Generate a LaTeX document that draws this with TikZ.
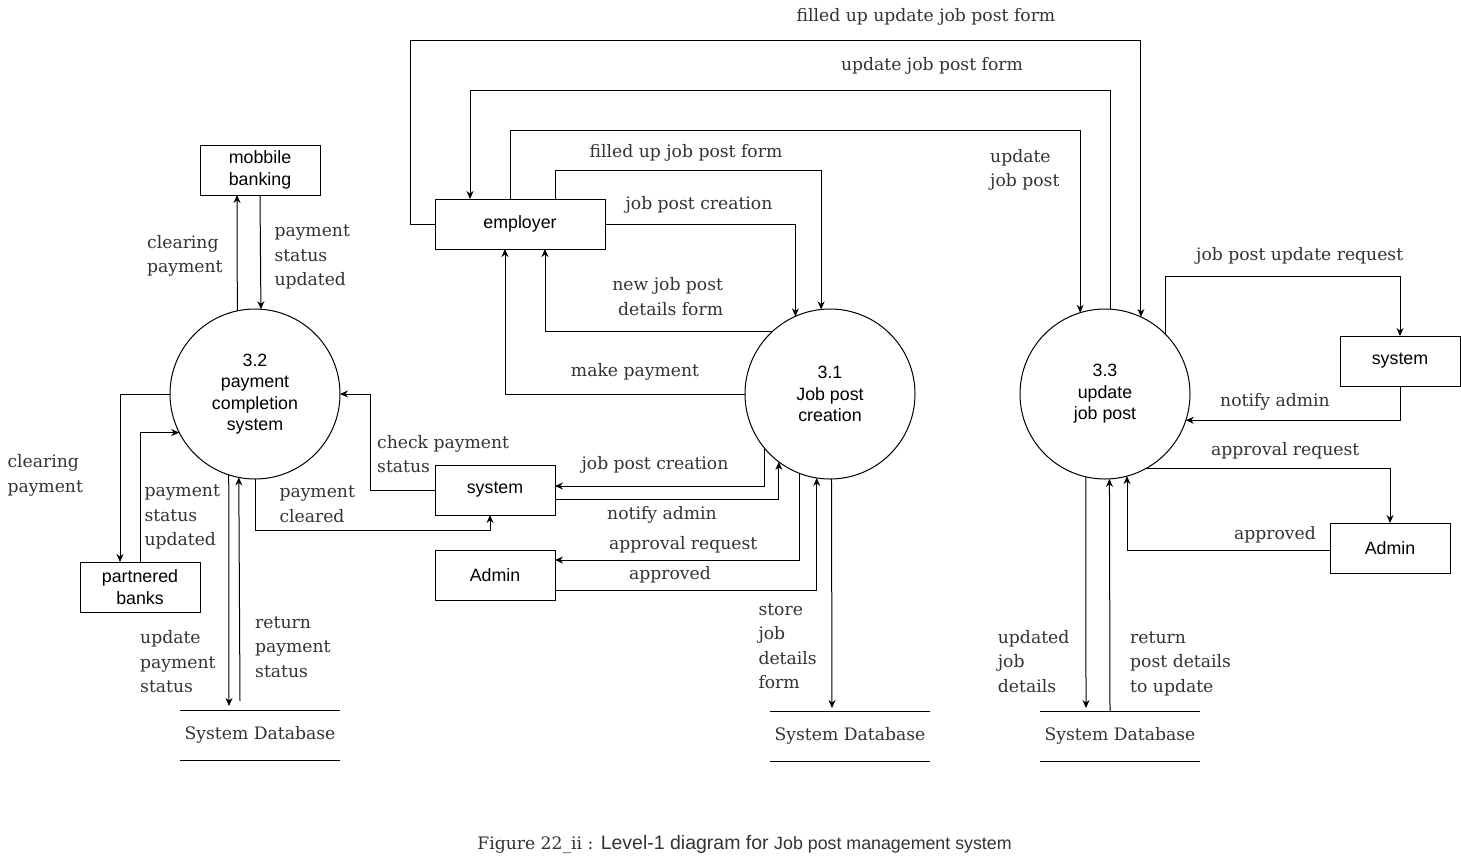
\documentclass[tikz,border=0pt]{standalone}
\usepackage{fontspec}
\setmainfont{DejaVu Serif}
\setsansfont{Liberation Sans}
\newfontfamily\lblserif{DejaVu Serif}
\usetikzlibrary{arrows.meta,calc}
\definecolor{lblgray}{HTML}{333333}
\newcommand{\nodefont}{\sffamily\fontsize{17.8}{21.4}\selectfont}
\newcommand{\lblfont}{\lblserif\fontsize{17.2}{24.5}\selectfont}
\begin{document}
\begin{tikzpicture}[x=1pt,y=-1pt,
  box/.style={draw, line width=1pt, minimum width=120pt, minimum height=50pt, inner sep=0pt, outer sep=0pt, font=\nodefont, align=center},
  proc/.style={draw, circle, line width=1pt, minimum size=170pt, inner sep=0pt, outer sep=0pt, font=\nodefont, align=center},
  store/.style={minimum width=160pt, minimum height=50pt, inner sep=0pt, outer sep=0pt, font=\lblfont, text=lblgray},
  flow/.style={line width=1pt, -{Stealth[length=8pt,width=7pt]}},
  plain/.style={line width=1pt},
  lbl/.style={font=\lblfont, text=lblgray, inner sep=0pt, align=left, anchor=base west},
  lblc/.style={font=\lblfont, text=lblgray, inner sep=0pt, anchor=base}]
\useasboundingbox (0,0) rectangle (1461,860);
\fill[white] (0,0) rectangle (1461,860);

% route levels
\coordinate (r1) at (0,40);
\coordinate (r2) at (0,90);
\coordinate (r3) at (0,130);
\coordinate (r4) at (0,170);
\coordinate (r5) at (0,276);

% entities
\node[box] (mb) at (260,170) {mobbile\\banking};
\node[box, minimum width=170pt] (emp) at (520,224) {employer};
\node[box] (sysm) at (495,490) {system};
\node[box] (admm) at (495,575) {Admin};
\node[box] (pb) at (140,587) {partnered\\banks};
\node[box] (sysr) at (1400,361) {system};
\node[box] (admr) at (1390,548) {Admin};

% processes
\node[proc] (c32) at (255,394) {3.2\\payment\\completion\\system};
\node[proc] (c31) at (830,394) {3.1\\Job post\\creation};
\node[proc] (c33) at (1105,394) {3.3\\update\\job post};

% data stores
\node[store] (ds1) at (260,735) {System Database};
\node[store] (ds2) at (850,736) {System Database};
\node[store] (ds3) at (1120,736) {System Database};
\foreach \d in {ds1,ds2,ds3}{
  \draw[plain] (\d.north west) -- (\d.north east) (\d.south west) -- (\d.south east);
}

% ---- process 3.2 flows
\draw[flow] (c32.102.23) -- ([xshift=-23pt]mb.south);
\draw[flow] (mb.south) -- (c32.86.63);
\draw[flow] (c32.west) -| ([xshift=-20pt]pb.north);
\draw[flow] (pb.north) |- (c32.207.31);
\draw[flow] (c32.252.19) -- ([xshift=-31pt,yshift=4pt]ds1.north);
\draw[flow] ([xshift=-20pt,yshift=9pt]ds1.north) -- (c32.259.84);
\draw[flow] (sysm.west) -- ++(-65,0) |- (c32.east);
\draw[flow] (c32.south) -- ++(0,51) -| ([xshift=-5pt]sysm.south);

% ---- process 3.1 flows
\draw[flow] (emp.east) -| (c31.114.32);
\draw[flow] ([xshift=35pt]emp.north) |- (c31.96.76 |- r4) -- (c31.96.76);
\draw[flow] (c31.133.16) -| ([xshift=25pt]emp.south);
\draw[flow] (c31.west) -| ([xshift=-15pt]emp.south);
\draw[flow] (c31.220.12) |- ([yshift=4pt]sysm.east);
\draw[flow] ([yshift=-9pt]sysm.east) -| (c31.233.97);
\draw[flow] (c31.249.33) |- ([yshift=15pt]admm.east);
\draw[flow] ([yshift=-15pt]admm.east) -| (c31.261.20);
\draw[flow] (c31.271.35) -- ([xshift=-18pt,yshift=3pt]ds2.north);

% ---- process 3.3 flows
\draw[flow] ([xshift=-10pt]emp.north) |- (c33.107.10 |- r3) -- (c33.107.10);
\draw[flow] (c33.86.63) -- (c33.86.63 |- r2) -| ([xshift=-50pt]emp.north);
\draw[flow] (emp.west) -- ++(-25,0) |- (c33.65.68 |- r1) -- (c33.65.68);
\draw[flow] (c33.45.10) |- (sysr.north |- r5) -- (sysr.north);
\draw[flow] (sysr.south) |- (c33.342.19);
\draw[flow] (c33.299.46) -| (admr.north);
\draw[flow] ([yshift=-2pt]admr.west) -| (c33.285.70);
\draw[flow] (c33.257.08) -- ([xshift=-34pt,yshift=3pt]ds3.north);
\draw[flow] ([xshift=-10pt]ds3.north) -- (c33.273.37);

% ---- labels
\node[lblc] (l1) at (926,21) {filled up update job post form};
\node[lblc] (l2) at (932,70) {update job post form};
\node[lblc] (l3) at (686,157.5) {filled up job post form};
\node[lblc] (l4) at (699,209) {job post creation};
\node[lblc] (l5) at (635,376) {make payment};
\node[lblc] (l6) at (655,469.3) {job post creation};
\node[lblc] (l7) at (662,519.3) {notify admin};
\node[lblc] (l8) at (683.3,549.3) {approval request};
\node[lblc] (l9) at (670,579.3) {approved};
\node[lblc] (l10) at (1299.7,260.7) {job post update request};
\node[lblc] (l11) at (1275,406.7) {notify admin};
\node[lblc] (l12) at (1285.3,455.7) {approval request};
\node[lblc] (l13) at (1275,539.3) {approved};

\node[lbl] (m1) at (147,272.8) {clearing\\payment};
\node[lbl] (m2) at (274.3,285.7) {payment\\status\\updated};
\node[lbl] (m3) at (7.3,492.2) {clearing\\payment};
\node[lbl] (m4) at (144.3,545.7) {payment\\status\\updated};
\node[lbl] (m5) at (140,692.7) {update\\payment\\status};
\node[lbl] (m6) at (255,677.3) {return\\payment\\status};
\node[lbl] (m7) at (377,472.8) {check payment\\status};
\node[lbl] (m8) at (279.3,522.2) {payment\\cleared};
\node[lbl, align=right, anchor=base east] (m9) at (723.3,315.2) {new job post\\details form};
\node[lbl] (m10) at (758.3,688.8) {store\\job\\details\\form};
\node[lbl] (m11) at (990,186.8) {update\\job post};
\node[lbl] (m12) at (997.7,692.3) {updated\\job\\details};
\node[lbl] (m13) at (1130,692.3) {return\\post details\\to update};

% caption
\node[lblc] (cap) at (744.5,849) {Figure 22\_ii : {\sffamily\fontsize{19.5}{22}\selectfont Level-1 diagram for} {\sffamily\fontsize{17.8}{21}\selectfont Job post management system}};
\end{tikzpicture}
\end{document}
